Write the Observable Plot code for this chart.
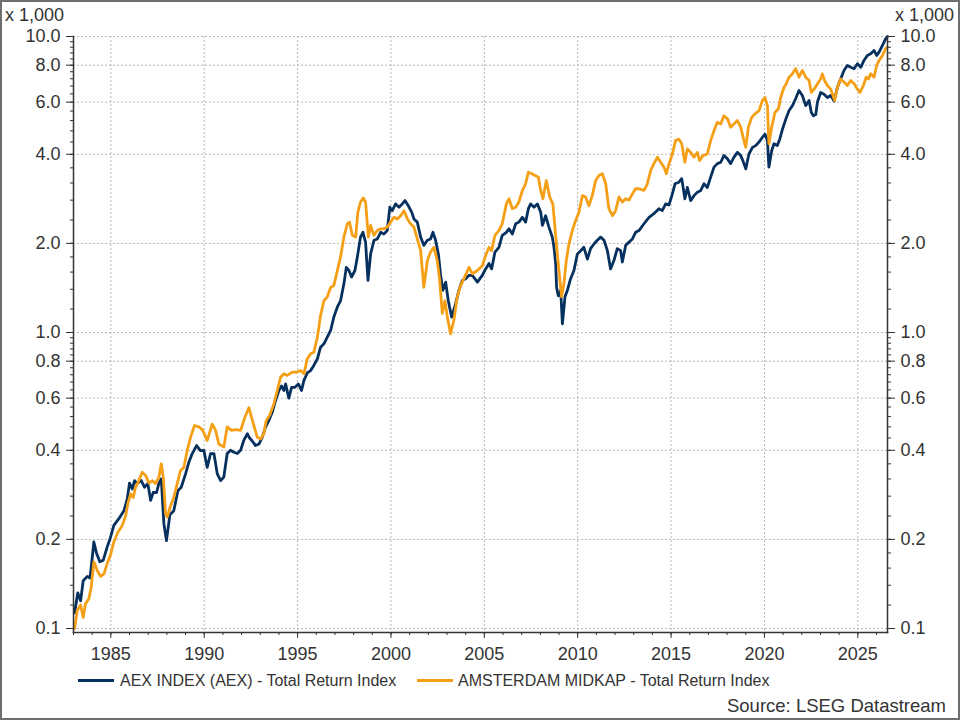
<!DOCTYPE html>
<html><head><meta charset="utf-8">
<script src="https://cdn.jsdelivr.net/npm/d3@7"></script>
<script src="https://cdn.jsdelivr.net/npm/@observablehq/plot@0.6"></script>
<style>
body{margin:0;background:#fff;}
#wrap{position:relative;width:960px;height:720px;overflow:hidden;font-family:"Liberation Sans",Arial,sans-serif;color:#333;background:#fff;}
#border{position:absolute;left:0;top:0;width:960px;height:720px;box-sizing:border-box;border:2px solid #6e6e6e;pointer-events:none;}
#chart{position:absolute;left:0;top:0;}
.lbl{position:absolute;line-height:1;white-space:nowrap;}
.sw{position:absolute;height:3px;}
</style>
</head><body>
<div id="wrap">
  <div id="chart"></div>
  <div class="lbl" style="left:5px;top:6px;font-size:18px;">x 1,000</div>
  <div class="lbl" style="left:895px;top:6px;font-size:18px;">x 1,000</div>
  <div class="sw" style="left:78px;width:36px;top:679px;background:#06305e;"></div>
  <div class="lbl" style="left:120px;top:673px;font-size:16px;">AEX INDEX (AEX) - Total Return Index</div>
  <div class="sw" style="left:417px;width:36px;top:679px;background:#f59f16;"></div>
  <div class="lbl" style="left:458px;top:673px;font-size:16px;">AMSTERDAM MIDKAP - Total Return Index</div>
  <div class="lbl" style="right:14px;top:697px;font-size:18.5px;">Source: LSEG Datastream</div>
  <div id="border"></div>
</div>
<script>
// ---- Data (values in thousands of index points) ----
const aexYears = [1983.06,1983.23,1983.38,1983.52,1983.74,1983.88,1983.95,1984.09,1984.23,1984.41,1984.59,1984.81,1984.98,1985.16,1985.43,1985.70,1985.88,1986.00,1986.15,1986.27,1986.41,1986.63,1986.80,1986.98,1987.13,1987.27,1987.45,1987.57,1987.70,1987.84,1987.98,1988.16,1988.37,1988.59,1988.77,1989.00,1989.18,1989.36,1989.59,1989.80,1989.98,1990.16,1990.34,1990.52,1990.70,1990.88,1991.05,1991.23,1991.41,1991.59,1991.77,1991.95,1992.12,1992.31,1992.43,1992.57,1992.75,1992.93,1993.11,1993.29,1993.46,1993.64,1993.82,1994.00,1994.14,1994.27,1994.36,1994.53,1994.68,1994.86,1995.04,1995.21,1995.34,1995.52,1995.70,1995.87,1996.06,1996.23,1996.41,1996.59,1996.77,1996.94,1997.13,1997.30,1997.48,1997.61,1997.75,1997.89,1998.07,1998.20,1998.37,1998.50,1998.64,1998.77,1998.91,1999.09,1999.27,1999.45,1999.62,1999.80,1999.94,2000.07,2000.25,2000.43,2000.61,2000.75,2000.93,2001.11,2001.23,2001.41,2001.59,2001.76,2001.95,2002.12,2002.25,2002.39,2002.54,2002.66,2002.78,2002.93,2003.07,2003.25,2003.46,2003.64,2003.82,2004.00,2004.18,2004.36,2004.63,2004.89,2005.07,2005.25,2005.39,2005.57,2005.78,2005.96,2006.18,2006.32,2006.50,2006.68,2006.85,2007.04,2007.21,2007.36,2007.48,2007.66,2007.84,2008.02,2008.11,2008.28,2008.46,2008.64,2008.73,2008.82,2008.87,2008.96,2009.09,2009.18,2009.32,2009.45,2009.62,2009.80,2009.98,2010.16,2010.33,2010.52,2010.69,2010.87,2011.05,2011.23,2011.41,2011.59,2011.76,2011.94,2012.12,2012.30,2012.39,2012.57,2012.75,2012.93,2013.10,2013.28,2013.55,2013.82,2014.08,2014.35,2014.53,2014.71,2014.89,2015.07,2015.21,2015.42,2015.57,2015.74,2015.87,2016.05,2016.23,2016.41,2016.59,2016.76,2016.94,2017.12,2017.30,2017.48,2017.66,2017.83,2018.02,2018.19,2018.37,2018.55,2018.73,2018.85,2019.00,2019.17,2019.36,2019.53,2019.71,2019.89,2020.03,2020.16,2020.24,2020.39,2020.51,2020.69,2020.82,2020.96,2021.14,2021.32,2021.50,2021.67,2021.85,2022.03,2022.21,2022.39,2022.51,2022.62,2022.75,2022.84,2023.01,2023.19,2023.37,2023.55,2023.73,2023.91,2024.08,2024.26,2024.44,2024.62,2024.80,2024.98,2025.16,2025.33,2025.51,2025.69,2025.87,2026.01,2026.14,2026.32,2026.49,2026.59];
const aexValues = [0.113,0.132,0.124,0.145,0.150,0.148,0.161,0.196,0.180,0.168,0.170,0.189,0.203,0.223,0.235,0.250,0.274,0.310,0.296,0.316,0.309,0.316,0.300,0.309,0.271,0.288,0.288,0.309,0.320,0.226,0.198,0.242,0.250,0.292,0.300,0.333,0.365,0.390,0.415,0.399,0.400,0.350,0.390,0.390,0.333,0.316,0.325,0.390,0.400,0.394,0.390,0.400,0.432,0.455,0.440,0.430,0.415,0.420,0.443,0.480,0.504,0.537,0.589,0.637,0.660,0.637,0.670,0.600,0.653,0.653,0.670,0.637,0.689,0.730,0.744,0.774,0.815,0.892,0.916,0.964,1.016,1.127,1.22,1.28,1.46,1.66,1.62,1.54,1.62,1.80,2.10,2.18,2.02,1.50,1.84,2.05,2.07,2.18,2.15,2.21,2.65,2.58,2.72,2.65,2.72,2.79,2.68,2.55,2.42,2.36,2.10,1.97,2.05,2.07,2.18,2.05,1.84,1.56,1.39,1.48,1.28,1.127,1.25,1.39,1.50,1.52,1.56,1.56,1.48,1.56,1.64,1.71,1.64,1.87,1.94,2.13,2.18,2.24,2.15,2.33,2.36,2.45,2.36,2.62,2.72,2.65,2.72,2.55,2.30,2.48,2.27,2.10,1.94,1.71,1.42,1.33,1.39,1.07,1.32,1.39,1.52,1.62,1.84,1.89,1.94,1.77,1.92,1.99,2.05,2.10,2.05,1.89,1.64,1.75,1.92,1.89,1.73,1.97,2.02,2.07,2.18,2.21,2.33,2.45,2.52,2.62,2.58,2.72,2.70,2.94,3.18,3.22,3.31,2.83,3.09,2.79,2.90,2.98,3.02,3.18,3.09,3.35,3.62,3.72,3.76,3.96,3.86,3.72,3.91,4.06,3.96,3.80,3.57,4.01,4.22,4.28,4.40,4.56,4.68,4.45,3.62,4.12,4.34,4.28,4.50,4.85,5.25,5.62,5.84,6.16,6.57,6.32,5.84,6.08,5.54,5.40,5.45,6.01,6.47,6.38,6.22,6.32,6.05,6.74,7.19,7.68,7.98,7.87,7.78,8.09,7.87,8.30,8.63,8.74,8.97,8.63,8.86,9.33,9.82,10.0];

const midYears = [1983.06,1983.20,1983.38,1983.52,1983.64,1983.82,1983.95,1984.09,1984.27,1984.45,1984.63,1984.81,1984.98,1985.16,1985.37,1985.61,1985.79,1985.91,1986.06,1986.20,1986.32,1986.50,1986.68,1986.86,1987.04,1987.22,1987.39,1987.57,1987.70,1987.81,1987.93,1988.02,1988.20,1988.37,1988.56,1988.73,1988.91,1989.09,1989.27,1989.48,1989.71,1989.90,1990.16,1990.43,1990.61,1990.78,1991.05,1991.23,1991.46,1991.68,1991.95,1992.18,1992.39,1992.61,1992.84,1993.02,1993.19,1993.32,1993.50,1993.73,1993.91,1994.09,1994.27,1994.45,1994.72,1994.98,1995.16,1995.34,1995.52,1995.70,1995.87,1996.06,1996.23,1996.41,1996.59,1996.77,1996.94,1997.13,1997.30,1997.48,1997.66,1997.78,1997.93,1998.11,1998.23,1998.37,1998.52,1998.64,1998.79,1998.91,1999.09,1999.27,1999.45,1999.62,1999.80,1999.98,2000.16,2000.34,2000.52,2000.70,2000.88,2001.05,2001.23,2001.41,2001.59,2001.76,2001.95,2002.12,2002.30,2002.48,2002.61,2002.75,2002.89,2003.02,2003.19,2003.37,2003.55,2003.73,2003.91,2004.18,2004.36,2004.63,2004.89,2005.07,2005.25,2005.39,2005.57,2005.78,2005.96,2006.18,2006.32,2006.50,2006.68,2006.85,2007.04,2007.21,2007.36,2007.54,2007.72,2007.89,2008.02,2008.14,2008.32,2008.50,2008.67,2008.78,2008.91,2009.03,2009.14,2009.26,2009.39,2009.53,2009.71,2009.89,2010.07,2010.25,2010.42,2010.60,2010.78,2010.96,2011.14,2011.32,2011.50,2011.67,2011.86,2012.03,2012.21,2012.39,2012.57,2012.75,2012.93,2013.10,2013.28,2013.55,2013.73,2013.91,2014.08,2014.27,2014.44,2014.62,2014.75,2014.89,2015.07,2015.24,2015.42,2015.57,2015.74,2015.87,2016.05,2016.23,2016.41,2016.53,2016.71,2016.94,2017.12,2017.30,2017.48,2017.66,2017.83,2018.02,2018.19,2018.37,2018.55,2018.73,2018.90,2019.00,2019.14,2019.32,2019.49,2019.71,2019.89,2020.03,2020.16,2020.24,2020.39,2020.56,2020.75,2020.87,2021.05,2021.14,2021.32,2021.50,2021.67,2021.85,2022.03,2022.21,2022.39,2022.51,2022.66,2022.84,2023.01,2023.10,2023.22,2023.37,2023.55,2023.76,2023.91,2024.08,2024.26,2024.44,2024.62,2024.80,2024.98,2025.12,2025.30,2025.45,2025.57,2025.69,2025.87,2026.01,2026.14,2026.32,2026.49,2026.59];
const midValues = [0.100,0.115,0.120,0.109,0.121,0.126,0.138,0.168,0.157,0.150,0.153,0.166,0.177,0.196,0.211,0.223,0.240,0.264,0.285,0.277,0.300,0.316,0.337,0.329,0.310,0.316,0.309,0.324,0.360,0.324,0.244,0.238,0.260,0.277,0.310,0.342,0.350,0.400,0.443,0.485,0.480,0.470,0.432,0.490,0.467,0.420,0.410,0.480,0.467,0.470,0.467,0.517,0.557,0.497,0.443,0.437,0.455,0.504,0.524,0.574,0.637,0.706,0.725,0.716,0.735,0.735,0.744,0.725,0.815,0.847,0.858,0.964,1.14,1.28,1.32,1.42,1.44,1.62,1.80,2.10,2.33,2.36,2.13,2.10,2.55,2.76,2.85,2.76,2.10,2.30,2.13,2.21,2.24,2.24,2.27,2.36,2.45,2.42,2.48,2.58,2.42,2.33,2.27,2.07,1.89,1.42,1.75,1.87,1.94,1.75,1.50,1.16,1.28,1.127,0.99,1.10,1.32,1.44,1.52,1.66,1.58,1.62,1.68,1.82,1.94,1.89,2.13,2.21,2.33,2.72,2.83,2.62,2.65,2.76,3.02,3.18,3.48,3.44,3.39,3.35,3.02,2.83,3.26,2.87,2.72,2.27,1.84,1.54,1.32,1.46,1.75,1.99,2.21,2.39,2.55,2.90,2.87,2.68,2.90,3.26,3.39,3.44,3.18,2.62,2.48,2.58,2.87,2.76,2.83,2.80,2.94,3.06,3.06,3.02,3.18,3.53,3.72,3.91,3.76,3.62,3.44,3.72,4.01,4.45,4.50,4.34,3.76,4.17,4.06,3.91,4.06,3.81,3.96,4.01,4.45,4.81,5.13,5.06,5.40,5.27,4.94,5.06,5.20,4.94,4.45,4.22,4.94,5.33,5.47,5.62,6.08,6.22,5.84,4.34,4.94,5.54,5.70,6.22,6.74,6.87,7.29,7.48,7.78,7.29,7.68,7.29,7.10,6.47,6.64,6.92,7.19,7.48,7.10,6.83,6.64,6.08,6.74,7.19,7.02,6.83,7.10,6.92,6.64,6.47,6.83,7.29,7.19,7.48,7.29,7.98,8.30,8.63,9.10,9.20];

const seriesNames = ["AEX INDEX (AEX) - Total Return Index", "AMSTERDAM MIDKAP - Total Return Index"];
const seriesColors = ["#06305e", "#f59f16"];

// ---- Tick labels ----
const yMajor = [0.1, 0.2, 0.4, 0.6, 0.8, 1, 2, 4, 6, 8, 10];
const xMajor = [1985, 1990, 1995, 2000, 2005, 2010, 2015, 2020, 2025];
const xDomain = [1983.0, 2026.59];

// minor ticks (axis decoration only)
const yMinor = [];
for (const base of [0.1, 1]) {
  for (let k = 6; k <= 10; k++) yMinor.push(+(k * 0.2 * base).toFixed(4));
  for (let k = 5; k <= 25; k++) yMinor.push(+(k * 0.4 * base).toFixed(4));
}
const xMinor = d3.range(1983, 2027);

const aexData = aexYears.map((year, i) => ({year, value: aexValues[i]}));
const midData = midYears.map((year, i) => ({year, value: midValues[i]}));

const axisColor = "#333";
const gridStyle = {stroke: "#b8b8b8", strokeOpacity: 1, strokeDasharray: "2,2", strokeWidth: 1};

const chart = Plot.plot({
  width: 960,
  height: 660,
  marginLeft: 73,
  marginRight: 73,
  marginTop: 36,
  marginBottom: 28,
  insetBottom: 4,
  style: {fontFamily: '"Liberation Sans", Arial, sans-serif', fontSize: "18px", color: axisColor, background: "transparent", overflow: "visible"},
  x: {type: "linear", domain: xDomain},
  y: {type: "log", domain: [0.1, 10]},
  marks: [
    Plot.gridY(yMajor, gridStyle),
    Plot.gridX(xMajor, gridStyle),
    Plot.line(aexData, {x: "year", y: "value", stroke: seriesColors[0], strokeWidth: 2.8, strokeLinejoin: "round"}),
    Plot.line(midData, {x: "year", y: "value", stroke: seriesColors[1], strokeWidth: 2.8, strokeLinejoin: "round"}),
    Plot.frame({anchor: "left", stroke: axisColor, strokeWidth: 1.5}),
    Plot.frame({anchor: "right", stroke: axisColor, strokeWidth: 1.5}),
    Plot.frame({anchor: "bottom", stroke: axisColor, strokeWidth: 1.5}),
    Plot.axisY(yMinor, {anchor: "left", tickSize: 3, fill: "none", label: null, stroke: axisColor}),
    Plot.axisY(yMinor, {anchor: "right", tickSize: 3, fill: "none", label: null, stroke: axisColor}),
    Plot.axisY(yMajor, {anchor: "left", tickSize: 7, tickPadding: 6, tickFormat: d => d.toFixed(1), label: null, fontSize: 18, stroke: axisColor, fill: axisColor}),
    Plot.axisY(yMajor, {anchor: "right", tickSize: 7, tickPadding: 6, tickFormat: d => d.toFixed(1), label: null, fontSize: 18, stroke: axisColor, fill: axisColor}),
    Plot.axisX(xMinor, {anchor: "bottom", tickSize: 3, fill: "none", label: null, stroke: axisColor}),
    Plot.axisX(xMajor, {anchor: "bottom", tickSize: 6, tickPadding: 9, tickFormat: d => String(d), label: null, fontSize: 18, stroke: axisColor, fill: axisColor})
  ]
});
document.getElementById("chart").appendChild(chart);
</script>
</body></html>
